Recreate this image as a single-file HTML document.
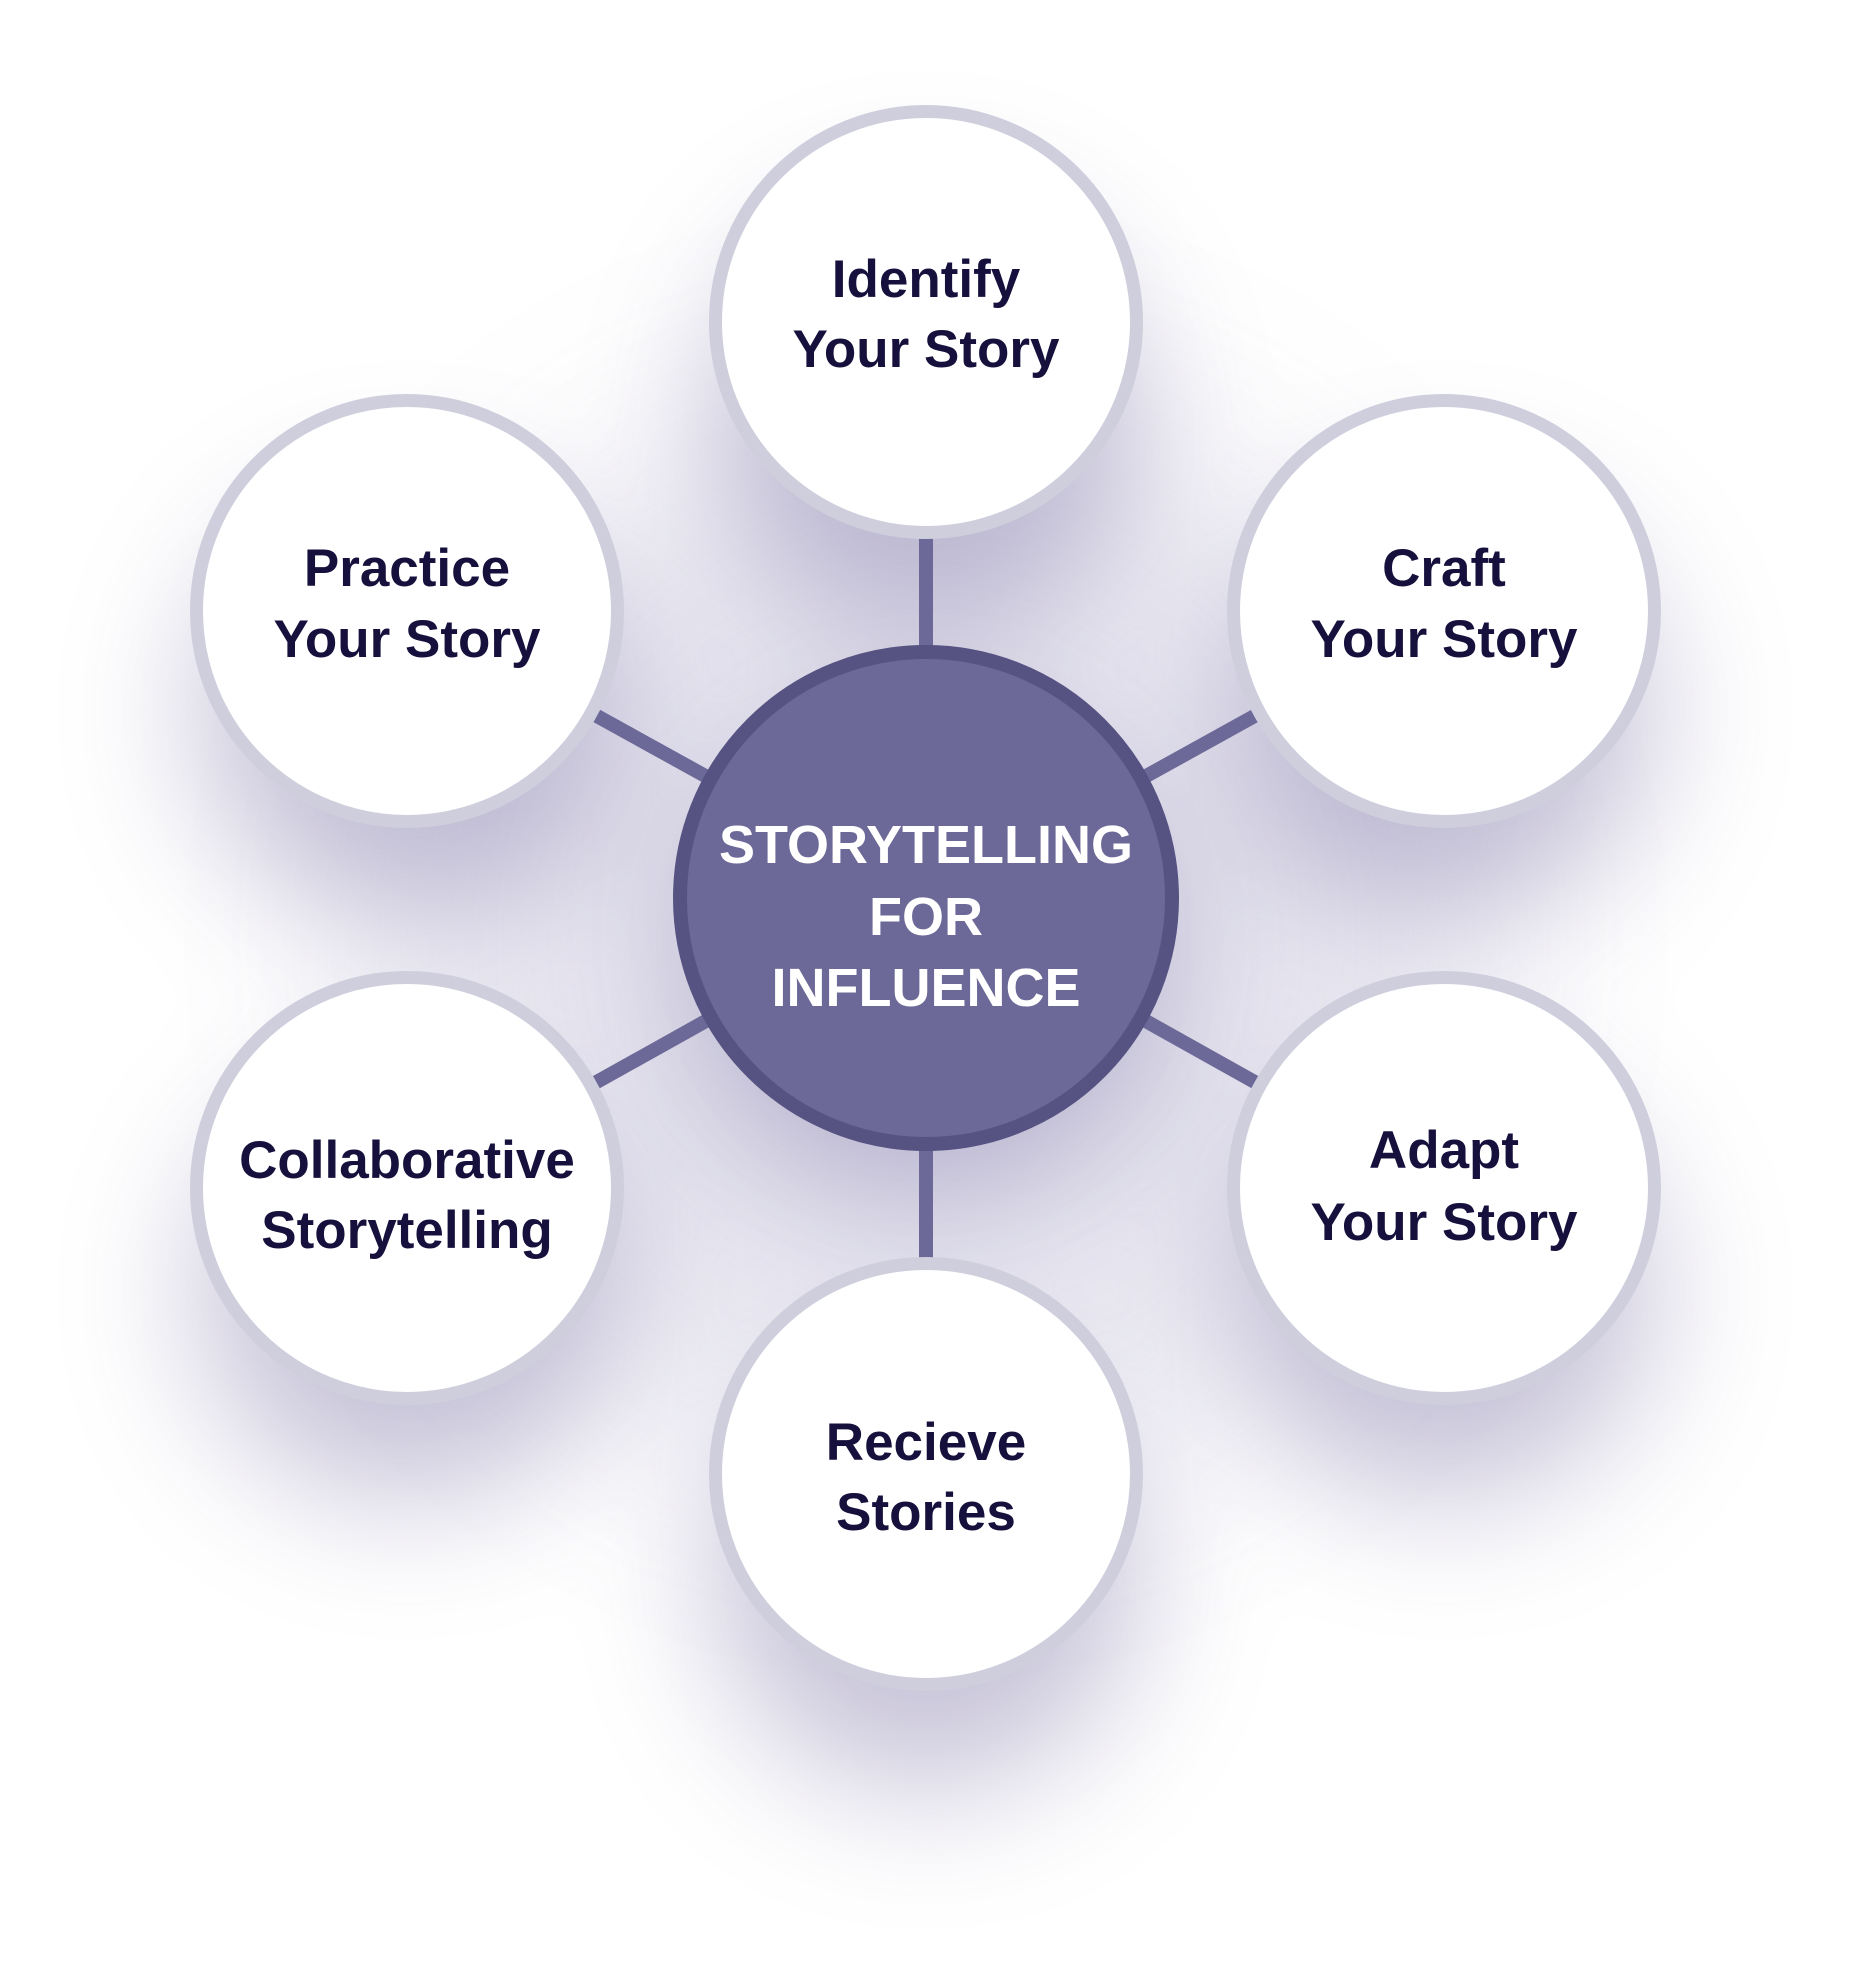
<!DOCTYPE html>
<html><head><meta charset="utf-8"><style>
html,body{margin:0;padding:0;background:#fff;}
svg{display:block;}
text{font-family:"Liberation Sans",sans-serif;font-weight:bold;text-anchor:middle;}
</style></head><body>
<svg width="1851" height="1966" viewBox="0 0 1851 1966" xmlns="http://www.w3.org/2000/svg">
<defs>
<filter id="sh" x="-100%" y="-100%" width="300%" height="300%"><feGaussianBlur stdDeviation="70"/></filter>
<filter id="sh2" x="-100%" y="-100%" width="300%" height="300%"><feGaussianBlur stdDeviation="120"/></filter>
</defs>
<rect width="1851" height="1966" fill="#fff"/>
<circle cx="926" cy="940" r="520" fill="#8a84b4" opacity="0.22" filter="url(#sh2)"/>
<g filter="url(#sh)" fill="#6a6098" opacity="0.38">
<circle cx="926" cy="420" r="210"/>
<circle cx="407" cy="710" r="210"/>
<circle cx="1444" cy="710" r="210"/>
<circle cx="407" cy="1290" r="210"/>
<circle cx="1444" cy="1290" r="210"/>
<circle cx="926" cy="1580" r="210"/>
<circle cx="926" cy="960" r="240"/>
</g>
<g stroke="#6c6897" stroke-width="14">
<line x1="926" y1="898" x2="926" y2="322"/>
<line x1="926" y1="898" x2="926" y2="1474"/>
<line x1="926" y1="898" x2="407" y2="611"/>
<line x1="926" y1="898" x2="1444" y2="611"/>
<line x1="926" y1="898" x2="407" y2="1188"/>
<line x1="926" y1="898" x2="1444" y2="1188"/>
</g>
<g fill="#fff" stroke="#cfcedd" stroke-width="13">
<circle cx="926" cy="322" r="210.5"/>
<circle cx="407" cy="611" r="210.5"/>
<circle cx="1444" cy="611" r="210.5"/>
<circle cx="407" cy="1188" r="210.5"/>
<circle cx="1444" cy="1188" r="210.5"/>
<circle cx="926" cy="1474" r="210.5"/>
</g>
<circle cx="926" cy="898" r="246" fill="#6c6897" stroke="#565282" stroke-width="14"/>
<g fill="#16103d" font-size="53">
<text x="926" y="297">Identify</text><text x="926" y="367">Your Story</text>
<text x="407" y="586">Practice</text><text x="407" y="657">Your Story</text>
<text x="1444" y="586">Craft</text><text x="1444" y="657">Your Story</text>
<text x="407" y="1178">Collaborative</text><text x="407" y="1248">Storytelling</text>
<text x="1444" y="1168">Adapt</text><text x="1444" y="1240">Your Story</text>
<text x="926" y="1460">Recieve</text><text x="926" y="1530">Stories</text>
</g>
<g fill="#fff" font-size="54">
<text x="926" y="863">STORYTELLING</text>
<text x="926" y="935">FOR</text>
<text x="926" y="1006">INFLUENCE</text>
</g>
</svg>
</body></html>
